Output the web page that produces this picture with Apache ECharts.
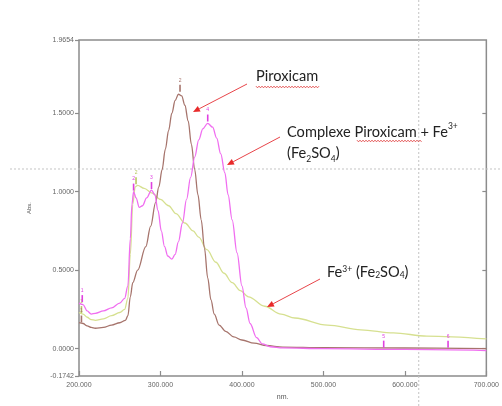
<!DOCTYPE html>
<html>
<head>
<meta charset="utf-8">
<script src="https://cdn.jsdelivr.net/npm/echarts@6/dist/echarts.min.js"></script>
<style>
  html, body { margin: 0; padding: 0; background: #fff; }
  #chart { width: 502px; height: 406px; }
</style>
</head>
<body>
<div id="chart"></div>
<script>
// Piroxicam (brown)
const wlPir = [200, 205, 210, 215, 220, 230, 240, 250, 257, 260, 263, 266, 272, 282, 288, 294, 298, 302, 306, 310, 314, 318, 322, 326, 330, 334, 338, 342, 346, 350, 354, 358, 362, 366, 372, 380, 390, 400, 415, 430, 450, 500, 600, 700]
const absPir = [0.165, 0.16, 0.145, 0.135, 0.13, 0.135, 0.15, 0.165, 0.18, 0.21, 0.33, 0.42, 0.50, 0.65, 0.78, 0.93, 1.03, 1.14, 1.27, 1.39, 1.50, 1.58, 1.62, 1.61, 1.55, 1.45, 1.30, 1.14, 0.98, 0.82, 0.64, 0.45, 0.31, 0.22, 0.15, 0.11, 0.075, 0.055, 0.035, 0.02, 0.01, 0.006, 0.004, 0.0]

// Complexe Piroxicam + Fe3+ (magenta)
const wlCpx = [200, 205, 210, 215, 220, 230, 240, 250, 256, 260, 263, 265, 267, 270, 274, 278, 283, 289, 293, 297, 301, 305, 309, 314, 318, 322, 327, 332, 337, 342, 347, 352, 358, 364, 369, 374, 379, 383, 388, 394, 400, 405, 410, 418, 425, 435, 450, 500, 600, 700]
const absCpx = [0.29, 0.28, 0.24, 0.22, 0.225, 0.24, 0.26, 0.29, 0.32, 0.40, 0.70, 0.92, 1.0, 0.96, 0.90, 0.91, 0.96, 1.01, 0.98, 0.88, 0.75, 0.65, 0.59, 0.57, 0.60, 0.68, 0.80, 0.95, 1.09, 1.22, 1.33, 1.40, 1.435, 1.41, 1.34, 1.24, 1.12, 0.98, 0.82, 0.61, 0.40, 0.26, 0.16, 0.07, 0.03, 0.012, 0.005, 0.0, -0.005, -0.012]

// Fe3+ (Fe2SO4) (yellow-green)
const wlFe = [200, 205, 210, 215, 220, 230, 240, 250, 256, 260, 263, 266, 269, 272, 280, 290, 300, 310, 319, 330, 340, 347, 357, 368, 378, 388, 398, 408, 428, 448, 465, 505, 546, 586, 627, 700]
const absFe = [0.23, 0.22, 0.20, 0.185, 0.18, 0.19, 0.21, 0.23, 0.25, 0.32, 0.60, 0.92, 1.03, 1.04, 1.02, 0.99, 0.95, 0.91, 0.86, 0.80, 0.75, 0.71, 0.63, 0.55, 0.48, 0.42, 0.37, 0.33, 0.27, 0.22, 0.195, 0.15, 0.12, 0.10, 0.08, 0.062]

// peak-pick markers [nm, abs]
const peaksPir = [[203, 0.16], [324, 1.63]]
const peaksCpx = [[204, 0.29], [267, 1.0], [289, 1.01], [358, 1.44], [574, 0.0], [653, 0.0]]
const peaksFe = [[203, 0.22], [270, 1.04]]
const peakLabels = ['1', '2', '3', '4', '5', '6']

const xTicks = [200, 300, 400, 500, 600, 700]
const yTicks = [-0.1742, 0, 0.5, 1, 1.5, 1.9654]
const cursor = [617, 1.144]

const colPir = '#a6746c'
const colCpx = '#f06ef0'
const colFe = '#d6e090'
const axisCol = '#8c8c8c'

const zip = (xs, ys) => xs.map((x, i) => [x, ys[i]])

function peakSeries(points, color) {
  return {
    type: 'custom',
    data: points,
    z: 5,
    renderItem(params, api) {
      const p = api.coord([api.value(0), api.value(1)])
      return {
        type: 'group',
        children: [
          { type: 'line', shape: { x1: p[0], y1: p[1] - 1, x2: p[0], y2: p[1] - 8 }, style: { stroke: color, lineWidth: 1.6 } },
          { type: 'text', x: p[0], y: p[1] - 10, style: { text: peakLabels[params.dataIndex], fill: color, fontSize: 5, align: 'center', verticalAlign: 'bottom' } },
        ],
      }
    },
  }
}

function lineSeries(data, color) {
  return {
    type: 'line',
    data,
    showSymbol: false,
    smooth: 0.35,
    smoothMonotone: 'x',
    lineStyle: { color, width: 1.3 },
    itemStyle: { color },
  }
}

function arrow(x1, y1, x2, y2) {
  const a = Math.atan2(y2 - y1, x2 - x1)
  const len = 7
  const w = 3
  const bx = x2 - len * Math.cos(a)
  const by = y2 - len * Math.sin(a)
  return [
    { type: 'line', shape: { x1, y1, x2: bx, y2: by }, style: { stroke: '#e8454a', lineWidth: 1 }, z: 20 },
    {
      type: 'polygon',
      shape: { points: [[x2, y2], [bx + w * Math.sin(a), by - w * Math.cos(a)], [bx - w * Math.sin(a), by + w * Math.cos(a)]] },
      style: { fill: '#e82a2a' },
      z: 20,
    },
  ]
}

function squiggle(x1, x2, y) {
  const pts = []
  for (let x = x1, i = 0; x <= x2; x += 1.5, i++) pts.push([x, y + (i % 2 ? 0.8 : -0.8)])
  return { type: 'polyline', shape: { points: pts }, style: { stroke: '#e04040', lineWidth: 0.9 }, z: 20 }
}

const richStyles = {
  n: { fontSize: 14.6, fontFamily: 'Lato', fill: '#222' },
  sup: { fontSize: 8.5, fontFamily: 'Lato', fill: '#222', verticalAlign: 'top' },
  sub: { fontSize: 8.5, fontFamily: 'Lato', fill: '#222', verticalAlign: 'bottom' },
}

const chart = echarts.init(document.getElementById('chart'), null, { renderer: 'canvas' })

chart.setOption({
  animation: false,
  backgroundColor: '#fff',
  textStyle: { fontFamily: 'Liberation Sans' },
  grid: { left: 79, right: 12, top: 40, bottom: 24, show: true, borderColor: axisCol, borderWidth: 1.5 },
  xAxis: {
    type: 'value',
    min: 200,
    max: 700,
    name: 'nm.',
    nameLocation: 'middle',
    nameGap: 18,
    nameTextStyle: { fontSize: 7, color: '#555' },
    axisLine: { show: false, onZero: false },
    axisTick: { inside: true, length: 5, lineStyle: { color: axisCol, width: 1.2 }, customValues: xTicks },
    axisLabel: { fontSize: 7, color: '#666', margin: 6, customValues: xTicks, formatter: v => v.toFixed(3) },
    splitLine: { show: false },
  },
  yAxis: [
    {
      type: 'value',
      min: -0.1742,
      max: 1.9654,
      name: 'Abs.',
      nameLocation: 'middle',
      nameGap: 47,
      nameRotate: 90,
      nameTextStyle: { fontSize: 6, color: '#555' },
      axisLine: { show: false, onZero: false },
      axisTick: { inside: false, length: 4, lineStyle: { color: axisCol, width: 1.2 }, customValues: yTicks },
      axisLabel: { fontSize: 7, color: '#666', margin: 5, customValues: yTicks, formatter: v => v.toFixed(4) },
      splitLine: { show: false },
    },
    {
      type: 'value',
      position: 'right',
      min: -0.1742,
      max: 1.9654,
      axisLine: { show: false, onZero: false },
      axisTick: { inside: true, length: 4, lineStyle: { color: axisCol, width: 1.2 }, customValues: [0, 0.5, 1, 1.5] },
      axisLabel: { show: false },
      splitLine: { show: false },
    },
  ],
  series: [
    lineSeries(zip(wlFe, absFe), colFe),
    lineSeries(zip(wlPir, absPir), colPir),
    lineSeries(zip(wlCpx, absCpx), colCpx),
    peakSeries(peaksFe, '#b8c860'),
    peakSeries(peaksPir, colPir),
    peakSeries(peaksCpx, '#e040e0'),
  ],
})

const cp = chart.convertToPixel({ gridIndex: 0 }, cursor)
const dash = { stroke: '#c4c4c4', lineWidth: 1, lineDash: [2, 2] }

chart.setOption({
  graphic: [
    { type: 'line', shape: { x1: 10, y1: cp[1], x2: 502, y2: cp[1] }, style: dash, z: 1, silent: true },
    { type: 'line', shape: { x1: cp[0], y1: 0, x2: cp[0], y2: 406 }, style: dash, z: 1, silent: true },
    { type: 'text', left: 256, top: 69, z: 20, style: { text: '{n|Piroxicam}', rich: richStyles } },
    squiggle(256, 319, 87),
    {
      type: 'text', left: 287, top: 122, z: 20,
      style: { text: '{n|Complexe Piroxicam + Fe}{sup|3+}\n{n|(Fe}{sub|2}{n|SO}{sub|4}{n|)}', rich: richStyles, lineHeight: 21 },
    },
    squiggle(357, 422, 141),
    { type: 'text', left: 327, top: 265, z: 20, style: { text: '{n|Fe}{sup|3+}{n| (Fe}{sub|2}{n|SO}{sub|4}{n|)}', rich: richStyles } },
    ...arrow(247, 84, 193, 112),
    ...arrow(280, 137, 227, 165),
    ...arrow(320, 279, 267, 307),
  ],
})
</script>
</body>
</html>
